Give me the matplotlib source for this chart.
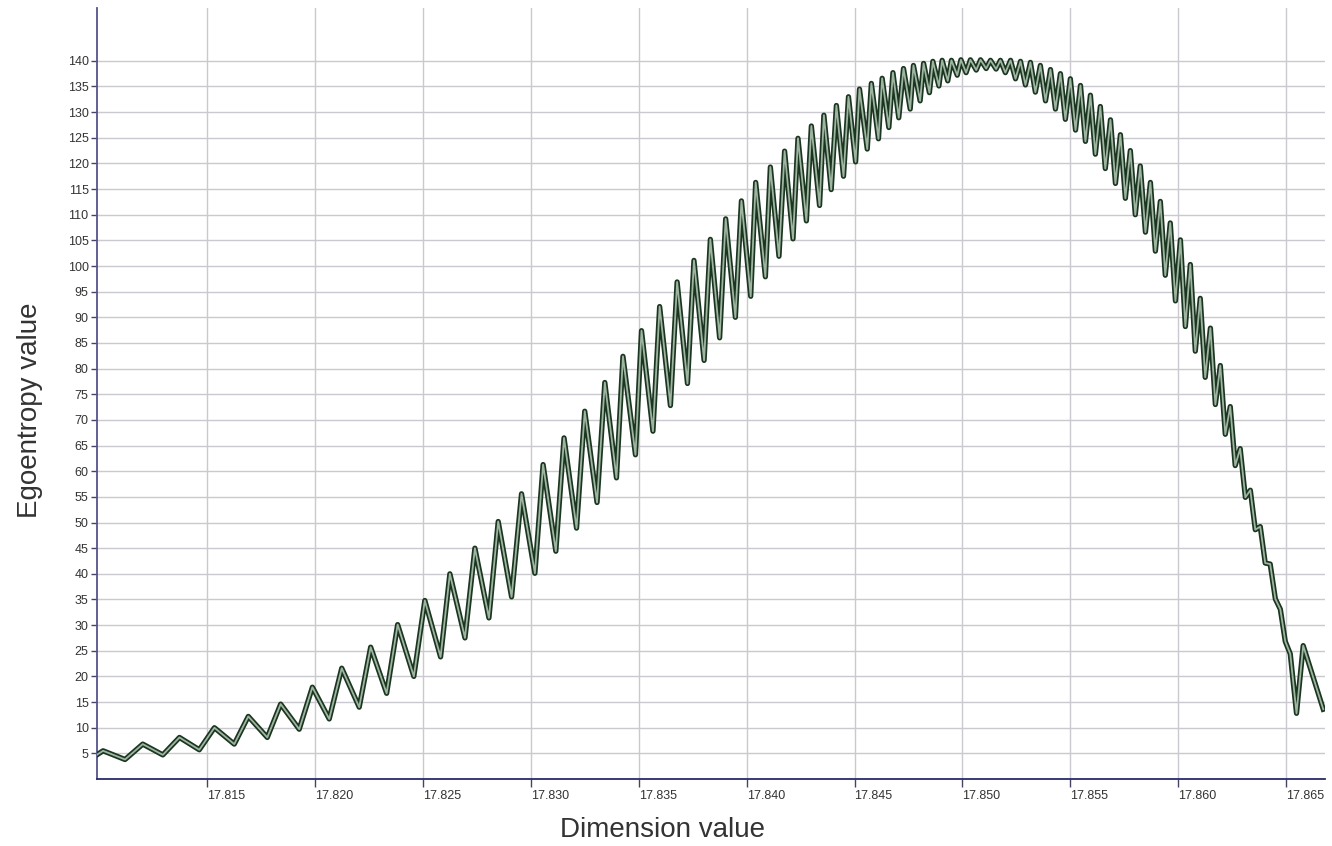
import numpy as np
import matplotlib
matplotlib.use('Agg')
import matplotlib.pyplot as plt

# peaks and troughs of the sawtooth
dim_values = [
    17.80989, 17.81018, 17.81120, 17.81202, 17.81295, 17.81372, 17.81464, 17.81534,
    17.81626, 17.81691, 17.81779, 17.81841, 17.81927, 17.81988, 17.82066, 17.82124,
    17.82205, 17.82258, 17.82332, 17.82383, 17.82458, 17.82509, 17.82582, 17.82625,
    17.82695, 17.82741, 17.82806, 17.82849, 17.82911, 17.82957, 17.83019, 17.83057,
    17.83116, 17.83154, 17.83212, 17.83250, 17.83307, 17.83343, 17.83397, 17.83427,
    17.83485, 17.83513, 17.83566, 17.83597, 17.83647, 17.83678, 17.83726, 17.83756,
    17.83803, 17.83832, 17.83875, 17.83903, 17.83948, 17.83976, 17.84019, 17.84042,
    17.84087, 17.84110, 17.84150, 17.84176, 17.84215, 17.84238, 17.84277, 17.84300,
    17.84338, 17.84358, 17.84392, 17.84416, 17.84449, 17.84472, 17.84505, 17.84523,
    17.84559, 17.84578, 17.84611, 17.84628, 17.84659, 17.84678, 17.84705, 17.84727,
    17.84758, 17.84773, 17.84804, 17.84820, 17.84847, 17.84863, 17.84891, 17.84906,
    17.84932, 17.84949, 17.84976, 17.84993, 17.85017, 17.85037, 17.85064, 17.85084,
    17.85110, 17.85130, 17.85156,
    17.85176, 17.85199, 17.85223, 17.85246, 17.85269, 17.85292, 17.85315, 17.85338,
    17.85361, 17.85385, 17.85408, 17.85431, 17.85454, 17.85477, 17.85500, 17.85524,
    17.85547, 17.85570, 17.85593, 17.85616, 17.85639, 17.85662, 17.85686, 17.85709,
    17.85732, 17.85755, 17.85778, 17.85801, 17.85824, 17.85848, 17.85871, 17.85894,
    17.85917, 17.85940, 17.85963, 17.85987, 17.86010, 17.86033, 17.86056, 17.86079,
    17.86102, 17.86125, 17.86149, 17.86172, 17.86195, 17.86218, 17.86241, 17.86264,
    17.86287, 17.86311, 17.86334, 17.86357, 17.86380, 17.86403, 17.86426, 17.86450,
    17.86473, 17.86496, 17.86519, 17.86548, 17.86579, 17.86672,
]
ego_values = [
    4.7, 5.5, 3.8, 6.8, 4.7, 8.1, 5.7, 10.0,
    6.8, 12.2, 8.1, 14.6, 9.7, 17.9, 11.7, 21.6,
    14.0, 25.7, 16.7, 30.1, 20.0, 34.8, 23.8, 40.0,
    27.5, 45.0, 31.4, 50.2, 35.5, 55.6, 40.1, 61.3,
    44.4, 66.5, 48.9, 71.7, 53.9, 77.3, 58.7, 82.4,
    63.2, 87.4, 67.8, 92.1, 72.8, 96.9, 77.1, 101.1,
    81.6, 105.2, 86.0, 109.2, 90.0, 112.7, 94.1, 116.3,
    97.9, 119.3, 101.9, 122.4, 105.3, 124.9, 108.8, 127.3,
    111.8, 129.4, 114.9, 131.3, 117.5, 133.0, 120.3, 134.5,
    122.8, 135.6, 124.8, 136.6, 127.0, 137.7, 128.9, 138.5,
    130.6, 139.1, 132.2, 139.5, 133.8, 139.9, 135.1, 140.1,
    136.1, 140.1, 137.2, 140.2, 137.7, 140.2, 138.2, 140.2,
    138.5, 140.1, 138.4,
    140.1, 137.7, 140.1, 136.5, 139.9, 135.3, 139.7, 133.9,
    139.1, 132.2, 138.3, 130.6, 137.5, 128.6, 136.5, 126.5,
    135.2, 124.3, 133.3, 121.8, 131.1, 119.0, 128.5, 116.1,
    125.6, 113.2, 122.5, 110.0, 119.5, 106.6, 116.3, 102.9,
    112.6, 98.2, 108.4, 93.2, 105.1, 88.2, 100.3, 83.4,
    93.7, 78.3, 87.9, 73.0, 80.6, 67.2, 72.6, 61.1,
    64.4, 54.9, 56.3, 48.6, 49.2, 42.1, 41.9, 35.1,
    33.1, 26.8, 24.4, 12.8, 26.0, 13.6,
]

x_ticks = [17.815, 17.820, 17.825, 17.830, 17.835, 17.840, 17.845, 17.850, 17.855, 17.860, 17.865]
y_ticks = list(range(5, 145, 5))

fig = plt.figure(figsize=(13.32, 8.46), dpi=100)
ax = fig.add_axes([97 / 1332, 1 - 779 / 846, (1325 - 97) / 1332, (779 - 8) / 846])

# dark outline with a pale core, like the hollow circle markers
ax.plot(dim_values, ego_values, color='#1b3620', lw=3.8, solid_joinstyle='round', zorder=3)
ax.plot(dim_values, ego_values, color='#9fb5a2', lw=1.3, solid_joinstyle='round', zorder=4)

ax.set_xlim(17.8099, 17.8668)
ax.set_ylim(0, 150.3)

ax.set_xticks(x_ticks)
ax.set_xticklabels(['%.3f' % v for v in x_ticks], ha='left')
ax.set_yticks(y_ticks)
ax.set_yticklabels([str(v) for v in y_ticks])
ax.tick_params(axis='x', length=6, width=1, color='#444466', labelsize=9, labelcolor='#333333', pad=2)
ax.tick_params(axis='y', length=4, width=1, color='#444466', labelsize=9, labelcolor='#333333', pad=2)
for lab in ax.get_xticklabels() + ax.get_yticklabels():
    lab.set_family(['Liberation Sans', 'DejaVu Sans'])

ax.grid(True, color='#c9c9cf', lw=1.0)
ax.set_axisbelow(True)
ax.spines['top'].set_visible(False)
ax.spines['right'].set_visible(False)
ax.spines['left'].set_color('#55558a')
ax.spines['bottom'].set_color('#2a2a6a')
ax.spines['left'].set_linewidth(1.3)
ax.spines['bottom'].set_linewidth(1.3)

fig.text(663 / 1332, 1 - 830 / 846, 'Dimension value', ha='center', va='center',
         fontsize=20, color='#333333', family=['Liberation Sans', 'DejaVu Sans'])
fig.text(30 / 1332, 1 - 410 / 846, 'Egoentropy value', ha='center', va='center', rotation=90,
         fontsize=20, color='#333333', family=['Liberation Sans', 'DejaVu Sans'])

fig.savefig('out.png', dpi=100)
